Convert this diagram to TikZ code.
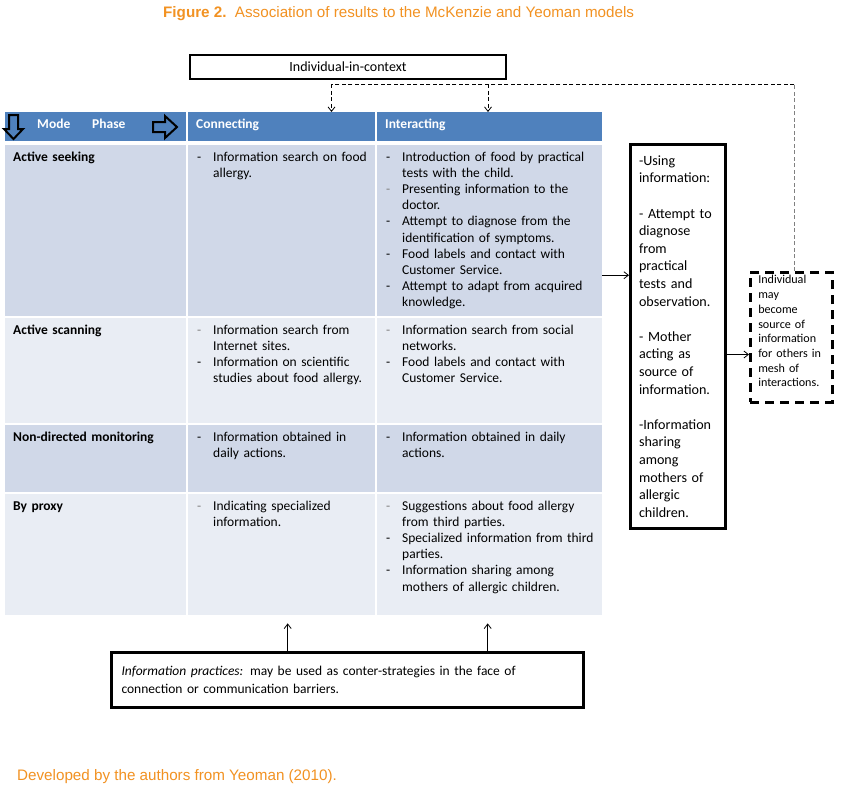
\documentclass[tikz,border=0pt]{standalone}
\usepackage{fontspec}
\setmainfont{Carlito}
\newfontfamily\arialfont{Liberation Sans}
\usepackage{tikz}
\usetikzlibrary{positioning,arrows.meta}

\definecolor{hdblue}{HTML}{4F81BD}
\definecolor{banddark}{HTML}{D0D8E8}
\definecolor{bandlight}{HTML}{E9EDF4}
\definecolor{figorange}{RGB}{242,146,34}

% first line of an item (with its dash) and the lines that follow it
\newcommand{\dl}[2][black]{\makebox[16pt][l]{\textcolor{#1}{-}}#2}
\newcommand{\cl}{\hspace*{16pt}}

\begin{document}
\begin{tikzpicture}[x=1pt,y=-1pt,
    cell/.style={anchor=north west, inner sep=0pt, minimum height=#1},
    txt/.style={anchor=base west, inner sep=0pt, text width=240pt, align=left,
      font={\fontsize{13.5}{16.2}\selectfont}},
    hdtxt/.style={anchor=base west, inner sep=0pt, text=white,
      font={\fontsize{13.5}{16.2}\selectfont\bfseries}},
    arr/.style={-{Straight Barb[length=4.5pt,width=7pt]}, line width=0.8pt},
    dline/.style={dash pattern=on 4pt off 2.5pt, line width=0.8pt}]
    \fill[white] (0,0) rectangle (845,785);
    \useasboundingbox (0,0) rectangle (845,785);

    % titles
    \node[anchor=base west, inner sep=0pt, text=figorange,
      font={\arialfont\fontsize{15.2}{18}\selectfont}] (title) at (163,17.5)
      {\textbf{Figure 2.}\ \ Association of results to the McKenzie and Yeoman models};
    \node[anchor=base west, inner sep=0pt, text=figorange,
      font={\arialfont\fontsize{15.2}{18}\selectfont}] (source) at (17,780)
      {Developed by the authors from Yeoman (2010).};

    % header row
    \node[cell=29, minimum width=181, fill=hdblue] (hdMode) at (5,112) {};
    \node[cell=29, minimum width=187, fill=hdblue] (hdConn) at (188,112) {};
    \node[cell=29, minimum width=225, fill=hdblue] (hdInt) at (377,112) {};
    \node[hdtxt] (modeT) at (37,128) {Mode};
    \node[hdtxt] (phaseT) at (92,128) {Phase};
    \node[hdtxt] (connT) at ([shift={(8,16)}]hdConn.north west) {Connecting};
    \node[hdtxt] (intT) at ([shift={(8,16)}]hdInt.north west) {Interacting};
    \draw[line width=2pt, line join=miter] (9,115) -- (18,115) -- (18,129) -- (23,129)
      -- (13.5,139) -- (4,129) -- (9,129) -- cycle;
    \draw[line width=2pt, line join=miter] (153,122) -- (165,122) -- (165,116) -- (177,127)
      -- (165,138) -- (165,132) -- (153,132) -- cycle;

    % body rows
    \node[cell=171, minimum width=181, fill=banddark] (sekMode) at (5,145) {};
    \node[cell=171, minimum width=187, fill=banddark] (sekConn) at (188,145) {};
    \node[cell=171, minimum width=225, fill=banddark] (sekInt) at (377,145) {};
    \node[cell=105, minimum width=181, fill=bandlight] (scnMode) at (5,318) {};
    \node[cell=105, minimum width=187, fill=bandlight] (scnConn) at (188,318) {};
    \node[cell=105, minimum width=225, fill=bandlight] (scnInt) at (377,318) {};
    \node[cell=67, minimum width=181, fill=banddark] (monMode) at (5,425) {};
    \node[cell=67, minimum width=187, fill=banddark] (monConn) at (188,425) {};
    \node[cell=67, minimum width=225, fill=banddark] (monInt) at (377,425) {};
    \node[cell=121, minimum width=181, fill=bandlight] (prxMode) at (5,494) {};
    \node[cell=121, minimum width=187, fill=bandlight] (prxConn) at (188,494) {};
    \node[cell=121, minimum width=225, fill=bandlight] (prxInt) at (377,494) {};

    \node[txt] (sekModeT) at ([shift={(8,16)}]sekMode.north west) {\textbf{Active seeking}};
    \node[txt] (sekConnT) at ([shift={(9,16)}]sekConn.north west)
      {\dl{Information search on food}\\\cl allergy.};
    \node[txt] (sekIntT) at ([shift={(9,16)}]sekInt.north west)
      {\dl{Introduction of food by practical}\\\cl tests with the child.\\
       \dl[gray]{Presenting information to the}\\\cl doctor.\\
       \dl{Attempt to diagnose from the}\\\cl identification of symptoms.\\
       \dl{Food labels and contact with}\\\cl Customer Service.\\
       \dl{Attempt to adapt from acquired}\\\cl knowledge.};

    \node[txt] (scnModeT) at ([shift={(8,16)}]scnMode.north west) {\textbf{Active scanning}};
    \node[txt] (scnConnT) at ([shift={(9,16)}]scnConn.north west)
      {\dl[gray]{Information search from}\\\cl Internet sites.\\
       \dl{Information on scientific}\\\cl studies about food allergy.};
    \node[txt] (scnIntT) at ([shift={(9,16)}]scnInt.north west)
      {\dl[gray]{Information search from social}\\\cl networks.\\
       \dl{Food labels and contact with}\\\cl Customer Service.};

    \node[txt] (monModeT) at ([shift={(8,16)}]monMode.north west) {\textbf{Non-directed monitoring}};
    \node[txt] (monConnT) at ([shift={(9,16)}]monConn.north west)
      {\dl{Information obtained in}\\\cl daily actions.};
    \node[txt] (monIntT) at ([shift={(9,16)}]monInt.north west)
      {\dl{Information obtained in daily}\\\cl actions.};

    \node[txt] (prxModeT) at ([shift={(8,16)}]prxMode.north west) {\textbf{By proxy}};
    \node[txt] (prxConnT) at ([shift={(9,16)}]prxConn.north west)
      {\dl[gray]{Indicating specialized}\\\cl information.};
    \node[txt] (prxIntT) at ([shift={(9,16)}]prxInt.north west)
      {\dl[gray]{Suggestions about food allergy}\\\cl from third parties.\\
       \dl{Specialized information from third}\\\cl parties.\\
       \dl{Information sharing among}\\\cl mothers of allergic children.};

    % boxes round the table
    \node[draw, line width=2pt, anchor=north west, minimum width=316, minimum height=24,
      inner sep=0pt, font={\fontsize{14}{16}\selectfont}] (indBox) at (189,54) {Individual-in-context};
    \node[draw, line width=3pt, anchor=north west, minimum height=384, text width=78,
      inner xsep=8.5pt, align=left, font={\fontsize{14.1}{17.6}\selectfont}] (useBox) at (629,143)
      {-Using\\information:\\[17.6pt]- Attempt to\\diagnose\\from\\practical\\tests and\\observation.\\[17.6pt]%
       - Mother\\acting as\\source of\\information.\\[17.6pt]-Information\\sharing\\among\\mothers of\\allergic\\children.};
    \node[draw, line width=2.5pt, dash pattern=on 9pt off 6pt, anchor=north west, minimum height=129,
      text width=66, inner xsep=8pt, text depth=115pt, align=left, font={\fontsize{12.1}{14.7}\selectfont}] (mayBox) at (749,271)
      {Individual\\may\\become\\source of\\information\\for others in\\mesh of\\interactions.};
    \node[draw, line width=3pt, anchor=north west, minimum height=55, text width=452,
      inner xsep=10pt, align=left, font={\fontsize{13.5}{18}\selectfont}] (pracBox) at (110,651)
      {\textit{Information practices:} may be used as conter-strategies in the face of\\connection or communication barriers.};

    % connectors
    \draw[arr] ([yshift=-44.5pt]sekInt.east) coordinate (aOut) -- (aOut -| useBox.west);
    \draw[arr] ([yshift=-18pt]useBox.east) coordinate (bOut) -- (bOut -| mayBox.west);
    \coordinate (upL) at ([xshift=6pt]prxConn.south);
    \coordinate (upR) at ([xshift=-2pt]prxInt.south);
    \draw[arr] (upL |- pracBox.north) -- ([yshift=-8pt]upL);
    \draw[arr] (upR |- pracBox.north) -- ([yshift=-8pt]upR);
    \coordinate (dL) at (331.5,84.3);
    \coordinate (dM) at (488,84.3);
    \coordinate (dR) at ([xshift=3pt]mayBox.north);
    \draw[dline, gray] (dR) -- (dR |- dL);
    \draw[dline] (dR |- dL) -- (dL);
    \draw[dline, arr] (dL) -- (dL |- hdConn.north);
    \draw[dline, arr] (dM) -- (dM |- hdInt.north);
\end{tikzpicture}
\end{document}
